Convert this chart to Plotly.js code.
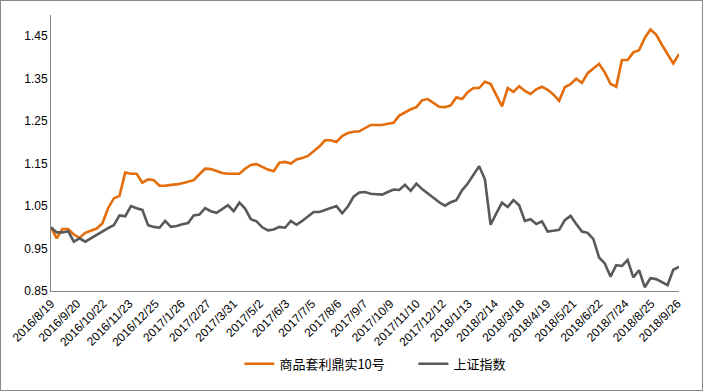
<!DOCTYPE html>
<html>
<head>
<meta charset="utf-8">
<script src="https://cdn.plot.ly/plotly-3.0.1.min.js"></script>
<style>
  html, body { margin: 0; padding: 0; background: #fff; }
  #wrap { position: relative; width: 704px; height: 391px; }
  #chart { width: 704px; height: 391px; }
  #frame { position: absolute; left: 0; top: 0; width: 703px; height: 391px; box-sizing: border-box;
           border: 1px solid #898989; pointer-events: none; }
</style>
</head>
<body>
<div id="wrap"><div id="chart"></div><div id="frame"></div></div>
<script>
// Weekly dates (Fridays)
const dates = [
  "2016-08-19","2016-08-26","2016-09-02","2016-09-09","2016-09-16","2016-09-23","2016-09-30","2016-10-07","2016-10-14","2016-10-21",
  "2016-10-28","2016-11-04","2016-11-11","2016-11-18","2016-11-25","2016-12-02","2016-12-09","2016-12-16","2016-12-23","2016-12-30",
  "2017-01-06","2017-01-13","2017-01-20","2017-01-27","2017-02-03","2017-02-10","2017-02-17","2017-02-24","2017-03-03","2017-03-10",
  "2017-03-17","2017-03-24","2017-03-31","2017-04-07","2017-04-14","2017-04-21","2017-04-28","2017-05-05","2017-05-12","2017-05-19",
  "2017-05-26","2017-06-02","2017-06-09","2017-06-16","2017-06-23","2017-06-30","2017-07-07","2017-07-14","2017-07-21","2017-07-28",
  "2017-08-04","2017-08-11","2017-08-18","2017-08-25","2017-09-01","2017-09-08","2017-09-15","2017-09-22","2017-09-29","2017-10-06",
  "2017-10-13","2017-10-20","2017-10-27","2017-11-03","2017-11-10","2017-11-17","2017-11-24","2017-12-01","2017-12-08","2017-12-15",
  "2017-12-22","2017-12-29","2018-01-05","2018-01-12","2018-01-19","2018-01-26","2018-02-02","2018-02-09","2018-02-16","2018-02-23",
  "2018-03-02","2018-03-09","2018-03-16","2018-03-23","2018-03-30","2018-04-06","2018-04-13","2018-04-20","2018-04-27","2018-05-04",
  "2018-05-11","2018-05-18","2018-05-25","2018-06-01","2018-06-08","2018-06-15","2018-06-22","2018-06-29","2018-07-06","2018-07-13",
  "2018-07-20","2018-07-27","2018-08-03","2018-08-10","2018-08-17","2018-08-24","2018-08-31","2018-09-07","2018-09-14","2018-09-21",
  "2018-09-28"
];

// 商品套利鼎实10号 (net value)
const fundValues = [
  1.000,0.974,0.996,0.996,0.983,0.975,0.987,0.992,0.997,1.009,
  1.045,1.068,1.074,1.129,1.126,1.126,1.105,1.113,1.111,1.098,
  1.098,1.100,1.101,1.104,1.107,1.111,1.125,1.138,1.137,1.132,
  1.128,1.126,1.126,1.126,1.138,1.147,1.149,1.142,1.136,1.132,
  1.152,1.154,1.150,1.160,1.163,1.168,1.178,1.190,1.205,1.205,
  1.201,1.215,1.222,1.225,1.226,1.233,1.241,1.241,1.241,1.244,
  1.246,1.263,1.270,1.278,1.283,1.299,1.302,1.292,1.284,1.283,
  1.287,1.306,1.302,1.318,1.328,1.328,1.343,1.338,1.311,1.285,
  1.328,1.319,1.332,1.321,1.314,1.325,1.331,1.324,1.313,1.298,
  1.330,1.337,1.350,1.340,1.363,1.374,1.385,1.365,1.338,1.331,
  1.394,1.394,1.412,1.417,1.446,1.466,1.454,1.430,1.409,1.386,
  1.408
];

// 上证指数 (normalised)
const indexValues = [
  1.000,0.988,0.988,0.991,0.966,0.974,0.966,0.974,0.983,0.992,
  0.998,1.005,1.028,1.026,1.050,1.045,1.041,1.005,1.001,0.999,
  1.015,1.001,1.003,1.007,1.010,1.028,1.030,1.045,1.038,1.034,
  1.042,1.052,1.038,1.058,1.044,1.019,1.014,1.000,0.993,0.995,
  1.001,0.999,1.015,1.006,1.015,1.025,1.036,1.036,1.041,1.046,
  1.050,1.033,1.049,1.072,1.082,1.083,1.079,1.078,1.077,1.083,
  1.089,1.088,1.100,1.086,1.103,1.090,1.079,1.068,1.059,1.051,
  1.059,1.064,1.087,1.103,1.122,1.144,1.113,1.006,1.033,1.058,
  1.048,1.064,1.052,1.015,1.019,1.008,1.014,0.990,0.992,0.994,
  1.017,1.027,1.008,0.990,0.987,0.972,0.929,0.915,0.884,0.911,
  0.909,0.923,0.882,0.899,0.859,0.880,0.878,0.871,0.864,0.900,
  0.907
];

const seriesNames = ["商品套利鼎实10号", "上证指数"];

const xTickVals = [
  "2016-08-19","2016-09-20","2016-10-22","2016-11-23","2016-12-25","2017-01-26","2017-02-27","2017-03-31",
  "2017-05-02","2017-06-03","2017-07-05","2017-08-06","2017-09-07","2017-10-09","2017-11-10","2017-12-12",
  "2018-01-13","2018-02-14","2018-03-18","2018-04-19","2018-05-21","2018-06-22","2018-07-24","2018-08-25","2018-09-26"
];
const xTickText = [
  "2016/8/19","2016/9/20","2016/10/22","2016/11/23","2016/12/25","2017/1/26","2017/2/27","2017/3/31",
  "2017/5/2","2017/6/3","2017/7/5","2017/8/6","2017/9/7","2017/10/9","2017/11/10","2017/12/12",
  "2018/1/13","2018/2/14","2018/3/18","2018/4/19","2018/5/21","2018/6/22","2018/7/24","2018/8/25","2018/9/26"
];
const yTickVals = [0.85, 0.95, 1.05, 1.15, 1.25, 1.35, 1.45];
const yTickText = ["0.85", "0.95", "1.05", "1.15", "1.25", "1.35", "1.45"];

const traces = [
  { x: dates, y: fundValues, name: seriesNames[0], type: "scatter", mode: "lines",
    line: { color: "#E46C0A", width: 2.6 } },
  { x: dates, y: indexValues, name: seriesNames[1], type: "scatter", mode: "lines",
    line: { color: "#595959", width: 2.6 } }
];

const layout = {
  width: 704, height: 391,
  margin: { l: 51, r: 25, t: 15, b: 100 },
  paper_bgcolor: "#fff", plot_bgcolor: "#fff",
  font: { family: "Liberation Sans, Noto Sans CJK SC, sans-serif", size: 12, color: "#000" },
  showlegend: true,
  legend: {
    orientation: "h", x: 0.30, xanchor: "left", y: -0.264, yanchor: "middle",
    font: { family: "Noto Sans CJK SC, sans-serif", size: 13, color: "#000" },
    entrywidth: 129, entrywidthmode: "pixels", bgcolor: "rgba(0,0,0,0)"
  },
  xaxis: {
    type: "date", range: ["2016-08-19", "2018-09-28"],
    tickmode: "array", tickvals: xTickVals, ticktext: xTickText, tickangle: -45,
    showgrid: false, zeroline: false, showline: true, linecolor: "#868686", linewidth: 1,
    ticks: "", tickfont: { size: 12, color: "#000" }
  },
  yaxis: {
    range: [0.85, 1.5], tickmode: "array", tickvals: yTickVals, ticktext: yTickText,
    showgrid: false, zeroline: false, showline: true, linecolor: "#868686", linewidth: 1,
    ticks: "", ticklen: 0, tickfont: { size: 12, color: "#000" }
  }
};

Plotly.newPlot("chart", traces, layout, { displayModeBar: false, staticPlot: true });
</script>
</body>
</html>
